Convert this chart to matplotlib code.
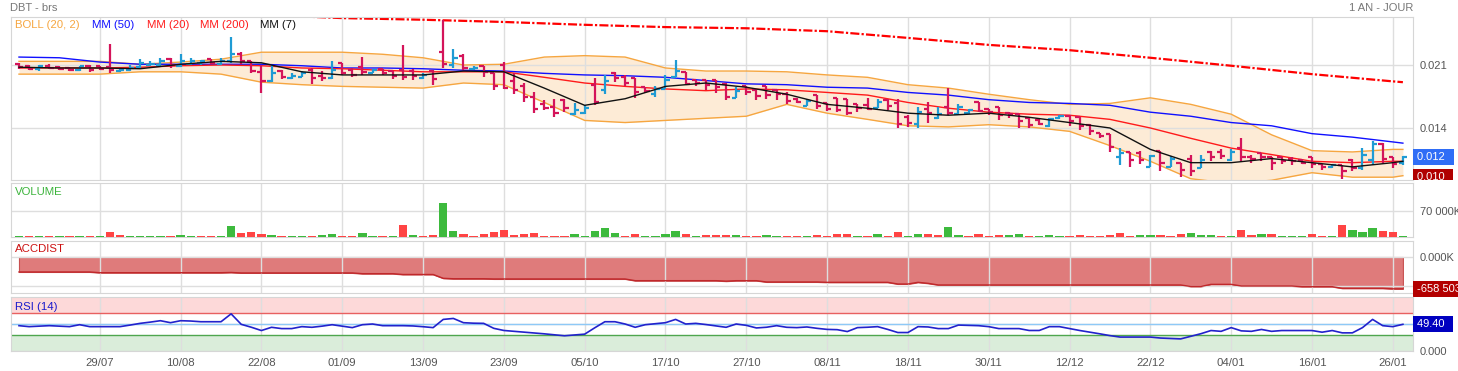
import numpy as np
import matplotlib
matplotlib.use('Agg')
import matplotlib.pyplot as plt
from matplotlib.ticker import NullLocator
from matplotlib.transforms import Bbox, TransformedBbox

plt.rcParams['font.family'] = ['Liberation Sans', 'DejaVu Sans']
plt.rcParams['lines.scale_dashes'] = False

# daily bars, prices in thousandths (x 0.001)
open_ = [21.2, 20.9, 20.5, 20.9, 20.7, 20.6, 20.3, 20.9, 20.8, 20.7,
         20.2, 20.3, 20.7, 21.0, 21.0, 21.8, 20.9, 21.2, 21.3, 21.8,
         21.2, 21.6, 22.6, 21.5, 20.1, 18.9, 20.2, 19.3, 19.5, 20.3,
         19.6, 19.3, 21.3, 20.3, 20.7, 19.9, 20.4, 20.2, 20.3, 20.2,
         19.3, 20.2, 22.8, 21.0, 22.3, 20.4, 20.8, 20.0, 21.0, 19.0,
         18.3, 17.1, 16.3, 16.0, 16.8, 15.3, 15.4, 18.5, 17.9, 20.0,
         19.5, 19.3, 18.2, 17.4, 18.0, 19.4, 20.1, 19.1, 19.1, 19.1,
         18.6, 17.0, 18.3, 17.9, 18.4, 17.9, 17.4, 16.9, 16.1, 17.3,
         16.4, 17.0, 16.9, 16.3, 16.2, 15.9, 16.8, 16.4, 15.0, 14.4,
         15.8, 14.9, 16.0, 15.3, 15.4, 16.6, 15.8, 16.0, 15.4, 15.3,
         14.9, 14.7, 14.2, 14.9, 15.1, 15.0, 14.3, 13.6, 13.5, 11.6,
         12.0, 11.9, 10.9, 12.1, 10.9, 11.2, 11.5, 10.8, 12.0, 12.0,
         11.4, 12.3, 11.6, 11.9, 11.6, 11.6, 11.5, 11.4, 11.6, 11.1,
         10.9, 11.0, 11.4, 10.8, 11.4, 12.6, 11.6, 11.2]
high = [21.3, 21.0, 21.0, 21.1, 20.9, 20.7, 20.9, 21.0, 20.9, 24.0,
        20.5, 21.0, 21.8, 21.5, 21.9, 22.0, 22.5, 22.0, 21.7, 21.8,
        22.0, 25.1, 22.8, 21.5, 21.0, 21.0, 20.3, 19.9, 20.2, 20.6,
        20.2, 21.5, 21.3, 20.6, 22.1, 20.5, 20.4, 20.2, 23.9, 20.4,
        19.9, 20.3, 28.1, 23.3, 22.6, 20.8, 20.8, 20.0, 21.4, 20.0,
        18.7, 17.6, 16.8, 16.9, 16.9, 16.4, 16.2, 19.3, 19.7, 20.1,
        19.7, 19.3, 18.2, 18.3, 19.7, 21.7, 20.1, 19.1, 19.1, 19.1,
        18.7, 18.2, 18.4, 17.9, 18.4, 18.0, 17.6, 17.0, 16.9, 17.3,
        16.4, 17.0, 16.9, 16.3, 17.0, 16.9, 16.9, 16.9, 15.2, 16.0,
        16.5, 16.0, 18.1, 16.3, 15.8, 16.6, 15.8, 16.0, 15.5, 15.3,
        14.9, 14.8, 14.9, 15.2, 15.2, 15.0, 14.4, 13.6, 13.5, 12.3,
        12.0, 12.1, 11.8, 12.1, 11.7, 11.2, 11.8, 11.8, 12.1, 12.2,
        12.2, 13.1, 11.8, 11.9, 11.6, 11.6, 11.6, 11.5, 11.6, 11.1,
        11.1, 11.0, 11.5, 12.3, 12.9, 12.7, 11.6, 11.7]
low = [20.4, 20.3, 20.2, 20.4, 20.3, 20.2, 20.2, 20.1, 20.3, 19.9,
       20.1, 20.2, 20.6, 20.8, 20.9, 20.6, 20.7, 21.0, 21.0, 21.1,
       21.0, 21.3, 21.2, 20.0, 17.5, 18.8, 19.2, 19.2, 19.4, 18.6,
       19.0, 19.2, 19.7, 19.4, 19.7, 19.9, 19.7, 19.2, 19.1, 19.1,
       19.2, 18.5, 20.6, 20.6, 20.3, 20.3, 19.4, 17.9, 18.0, 17.4,
       16.6, 15.4, 15.7, 15.0, 15.5, 15.2, 15.3, 16.2, 17.4, 18.8,
       18.4, 17.0, 17.5, 17.1, 18.0, 19.4, 18.5, 18.3, 17.9, 17.5,
       16.8, 17.0, 17.3, 16.8, 16.9, 16.8, 16.3, 16.4, 16.1, 15.8,
       15.6, 15.5, 15.2, 15.5, 15.7, 15.9, 15.7, 14.0, 14.1, 14.0,
       14.5, 14.8, 15.2, 15.2, 15.3, 15.5, 15.2, 14.7, 14.9, 14.0,
       14.0, 14.3, 14.1, 14.8, 14.2, 13.8, 13.4, 13.1, 12.0, 11.0,
       10.9, 11.1, 10.9, 10.6, 10.9, 10.2, 10.3, 10.8, 11.3, 11.5,
       11.3, 11.3, 11.2, 11.3, 10.7, 11.1, 11.0, 11.1, 10.8, 10.7,
       10.8, 10.1, 10.6, 10.7, 11.0, 11.2, 10.8, 11.0]
close = [20.7, 20.5, 20.8, 20.6, 20.4, 20.3, 20.8, 20.3, 20.5, 20.3,
         20.3, 20.6, 21.3, 21.2, 21.5, 21.0, 21.6, 21.6, 21.5, 21.3,
         21.6, 22.5, 21.5, 20.2, 19.0, 19.9, 19.4, 19.6, 19.9, 19.3,
         19.3, 20.3, 20.0, 19.7, 20.1, 20.3, 20.0, 19.6, 19.4, 19.6,
         19.7, 19.2, 21.1, 22.0, 20.6, 20.6, 20.1, 18.4, 18.1, 17.9,
         17.1, 15.8, 15.9, 15.4, 15.9, 15.7, 15.9, 16.6, 19.0, 19.3,
         18.7, 17.6, 17.8, 18.0, 19.1, 20.2, 18.6, 18.7, 18.5, 18.2,
         17.1, 17.8, 17.7, 17.2, 17.3, 17.4, 16.7, 16.5, 16.7, 16.1,
         15.8, 15.7, 15.4, 15.9, 15.8, 16.6, 16.1, 14.4, 14.5, 15.5,
         15.4, 15.3, 15.4, 16.0, 15.7, 15.6, 15.5, 15.2, 15.3, 14.6,
         14.3, 14.4, 14.8, 15.1, 14.6, 14.2, 13.7, 13.3, 12.4, 11.9,
         11.4, 11.4, 11.7, 11.2, 11.5, 10.7, 10.6, 11.4, 11.6, 11.7,
         12.0, 11.6, 11.5, 11.6, 11.2, 11.3, 11.3, 11.2, 11.1, 10.9,
         11.0, 10.6, 10.8, 11.8, 12.6, 11.5, 11.1, 11.6]

# indicators read every 4th bar (last bar added)
boll_up = [21.5, 21.5, 21.5, 21.1, 21.4, 21.8, 22.8, 22.8, 22.8, 22.5, 22.0, 21.0,
           21.1, 22.1, 22.3, 22.1, 20.6, 20.2, 20.2, 20.1, 19.7, 19.4, 18.5, 18.1,
           17.4, 16.8, 16.3, 16.4, 17.0, 16.3, 15.3, 13.4, 12.1, 12.0, 12.2, 12.2]
boll_lo = [19.8, 19.8, 19.8, 20.1, 20.1, 19.8, 18.8, 18.5, 18.3, 18.2, 18.1, 18.7,
           18.5, 16.5, 14.7, 14.5, 14.7, 14.9, 15.1, 16.3, 15.4, 14.8, 14.2, 14.1,
           14.3, 14.1, 13.7, 12.5, 11.3, 10.1, 9.8, 10.0, 10.5, 10.2, 10.2, 10.3]
mm50 = [22.1, 22.0, 21.4, 21.1, 21.1, 21.1, 21.1, 20.9, 20.6, 20.6, 20.5, 20.3,
        20.2, 19.9, 19.7, 19.6, 19.4, 19.0, 18.6, 18.5, 18.2, 18.1, 17.6, 17.3,
        16.8, 16.5, 16.4, 16.2, 15.5, 15.1, 14.5, 14.2, 13.5, 13.2, 12.8, 12.7]
mm20 = [20.6, 20.6, 20.6, 20.7, 20.9, 21.0, 20.9, 20.6, 20.5, 20.3, 20.1, 20.1,
        20.1, 19.4, 18.7, 18.3, 18.0, 17.8, 18.0, 17.9, 17.6, 17.3, 16.5, 15.9,
        15.5, 15.3, 15.2, 14.8, 14.0, 13.1, 12.3, 11.8, 11.3, 11.2, 11.3, 11.3]
mm7 = [20.7, 20.6, 20.6, 20.5, 21.1, 21.5, 21.3, 20.1, 19.7, 19.7, 19.7, 20.2,
       20.1, 18.1, 16.2, 16.9, 18.3, 18.7, 18.2, 17.4, 16.3, 15.9, 15.4, 15.2,
       15.4, 15.0, 14.5, 14.0, 12.2, 11.2, 11.2, 11.5, 11.2, 10.9, 11.2, 11.3]
# every 8th bar
mm200 = [30.3, 29.7, 29.3, 29.0, 28.4, 28.1, 27.7, 27.2, 26.8, 26.6,
         26.1, 25.0, 23.9, 23.1, 22.0, 20.9, 19.8, 18.9, 18.8]

# volume in K, g = up day, r = down day
volume = [3500, 3500, 3500, 3500, 2700, 3500, 2700, 3500, 3500, 13500,
          4600, 3500, 3500, 3500, 3500, 3500, 4600, 3500, 3500, 2700,
          3500, 28800, 10800, 12700, 8900, 4600, 3500, 3500, 3500, 3500,
          4600, 7300, 3500, 3500, 10800, 3500, 3500, 3500, 31500, 4600,
          3500, 4600, 91500, 16200, 7300, 3500, 7300, 14300, 18000, 6200,
          7300, 10800, 3500, 2700, 3500, 7300, 3500, 15300, 24200, 11600,
          3500, 8900, 3500, 3500, 7300, 16200, 8900, 3500, 5400, 5400,
          5400, 4600, 3500, 3500, 6200, 3500, 3500, 3500, 3500, 5400,
          3500, 8100, 8100, 1900, 2700, 8900, 2700, 12700, 1900, 7300,
          7300, 5400, 26100, 5400, 2700, 8900, 2700, 5400, 4600, 8900,
          2700, 2700, 5400, 2700, 2700, 4600, 2700, 2700, 4600, 10800,
          2700, 5400, 4600, 4600, 3500, 7300, 10800, 4600, 4600, 2700,
          2700, 19700, 4600, 8900, 7300, 2700, 2700, 2700, 8900, 2700,
          2700, 33100, 18000, 14300, 24200, 15300, 14300, 2700]
vol_dir = ("grgrgrgrgr" "rggggrggrr" "ggrrrgrggr" "ggrrggrgrg" "rrggrrrrrr"
           "rrrrrggggg" "rrggggrgrr" "rgrrggrrgr" "rrrgrgrrgg" "rrggrrrrgg"
           "rgggrrrrrr" "rggrrrgggr" "grrgrgggrr" "grgggrrg")

# accumulation / distribution in K
accdist = [-310, -310, -310, -310, -310, -310, -310, -310, -325, -325,
           -325, -325, -325, -325, -325, -325, -325, -325, -325, -325,
           -325, -320, -330, -330, -330, -330, -330, -330, -330, -330,
           -330, -330, -330, -330, -345, -345, -345, -345, -362, -362,
           -362, -362, -441, -450, -450, -450, -450, -455, -455, -455,
           -455, -455, -455, -455, -455, -455, -455, -455, -455, -455,
           -455, -490, -490, -490, -490, -490, -490, -490, -490, -490,
           -500, -490, -490, -490, -517, -517, -517, -517, -517, -517,
           -524, -524, -524, -524, -524, -524, -524, -559, -559, -524,
           -545, -579, -579, -579, -579, -579, -579, -579, -579, -579,
           -579, -579, -579, -579, -579, -579, -579, -579, -579, -579,
           -579, -579, -579, -579, -579, -579, -610, -610, -566, -566,
           -566, -600, -600, -600, -600, -600, -600, -614, -614, -614,
           -614, -648, -648, -648, -648, -648, -658.5, -658.5]

rsi = [46.9, 45.1, 46.0, 46.9, 46.0, 45.1, 48.7, 45.1, 45.1, 45.1,
       45.1, 48.0, 51.2, 53.5, 56.1, 52.4, 56.1, 55.5, 54.2, 54.2,
       54.2, 68.8, 49.4, 44.0, 37.9, 43.9, 41.5, 41.5, 45.1, 43.9,
       46.0, 48.7, 46.0, 43.3, 48.7, 50.0, 46.9, 46.9, 46.9, 46.4,
       45.0, 43.3, 58.5, 60.3, 52.4, 51.5, 51.2, 42.0, 38.0, 36.5,
       34.8, 33.3, 31.8, 30.0, 28.2, 29.7, 31.2, 43.0, 54.2, 54.2,
       50.0, 43.9, 48.7, 50.5, 52.4, 58.5, 50.0, 51.2, 49.0, 46.5,
       43.9, 50.0, 47.5, 42.7, 44.0, 46.9, 43.9, 43.3, 44.5, 42.0,
       40.0, 39.5, 36.0, 43.3, 44.0, 45.1, 40.0, 34.2, 34.2, 45.1,
       44.5, 41.5, 41.5, 48.0, 47.5, 46.9, 45.1, 41.5, 41.5, 41.5,
       38.0, 38.0, 45.1, 45.1, 41.5, 38.0, 35.0, 31.8, 28.5, 25.8,
       25.8, 25.8, 25.8, 24.0, 23.2, 22.4, 27.3, 32.0, 37.9, 36.4,
       43.3, 37.3, 36.4, 39.9, 36.4, 37.9, 37.9, 37.9, 37.9, 34.8,
       37.9, 33.6, 33.6, 43.3, 58.5, 46.9, 45.1, 49.4]

date_labels = ['29/07', '10/08', '22/08', '01/09', '13/09', '23/09', '05/10', '17/10',
               '27/10', '08/11', '18/11', '30/11', '12/12', '22/12', '04/01', '16/01', '26/01']

o = np.array(open_) * 1e-3
h = np.array(high) * 1e-3
l = np.array(low) * 1e-3
c = np.array(close) * 1e-3
n = len(c)
idx = np.arange(n)
ma_idx = np.r_[np.arange(0, n - 1, 4), n - 1]
mm200_idx = np.r_[np.arange(0, n - 1, 8), n - 1]
tick_pos = np.arange(8, n, 8)

W, H = 1458, 371
fig = plt.figure(figsize=(W / 100, H / 100), dpi=100)


def box(x0, y0, x1, y1):
    return [x0 / W, 1 - y1 / H, (x1 - x0) / W, (y1 - y0) / H]


ax = fig.add_axes(box(11, 17, 1413, 180))
axv = fig.add_axes(box(11, 183, 1413, 237))
axa = fig.add_axes(box(11, 241, 1413, 293))
axr = fig.add_axes(box(11, 297, 1413, 351))

gray = '#555555'
for a in (ax, axv, axa, axr):
    a.set_xlim(-0.79, 138.0)
    a.set_xticks(tick_pos)
    a.grid(True, color='#dedede', lw=1)
    a.set_axisbelow(True)
    for s in a.spines.values():
        s.set_color('#d6d6d6')
    a.yaxis.tick_right()
    a.tick_params(length=0, labelsize=8, labelcolor=gray, pad=5)
    a.tick_params(axis='x', labelbottom=False)


def tag(a, y, s, color, y0=None, y1=None):
    t = a.text(1.0025, y, s + '  ', transform=a.get_yaxis_transform(), ha='left', va='center',
               color='white', fontsize=8, clip_on=False,
               bbox=dict(boxstyle='square,pad=0.28', fc=color, ec='none'))
    if y0 is not None:
        # keep the marker inside the panel's band on the right
        clip = TransformedBbox(Bbox([[1413 / W, 1 - y1 / H], [1.0, 1 - y0 / H]]), fig.transFigure)
        t.set_clip_on(True)
        t.set_clip_box(clip)
    return t


# price panel
ax.set_yscale('log')
ax.set_ylim(0.010018, 0.0286)
ax.set_yticks([0.014, 0.021])
ax.set_yticklabels(['0.014', '0.021'])
ax.yaxis.set_minor_locator(NullLocator())

up_ = np.array(boll_up) * 1e-3
lo_ = np.array(boll_lo) * 1e-3
ax.fill_between(ma_idx, lo_, up_, color='#fdebd6', lw=0, zorder=0.2)
ax.plot(ma_idx, up_, color='#f6a640', lw=1)
ax.plot(ma_idx, lo_, color='#f6a640', lw=1)
ax.plot(ma_idx, np.array(mm50) * 1e-3, color='#1010ff', lw=1)
ax.plot(ma_idx, np.array(mm20) * 1e-3, color='#ff1a1a', lw=1)
ax.plot(mm200_idx, np.array(mm200) * 1e-3, color='#ff0000', lw=1.6,
        linestyle=(0, (6.5, 1.6, 1.6, 1.6)))

cols = np.where(c >= o, '#1f9bd4', '#d4145a')
ax.vlines(idx, l, h, colors=cols, lw=1.6, zorder=3)
ax.hlines(o, idx - 0.42, idx, colors=cols, lw=1.6, zorder=3)
ax.hlines(c, idx, idx + 0.42, colors=cols, lw=1.6, zorder=3)
ax.plot(ma_idx, np.array(mm7) * 1e-3, color='#111111', lw=1, zorder=4)

tag(ax, c[-1], '0.012', '#2f6df6', 17, 180)
tag(ax, 0.0102, '0.010', '#b00000', 17, 180)

legend = [('BOLL (20, 2)', '#f6a640', 15), ('MM (50)', '#1010ff', 92),
          ('MM (20)', '#ff1a1a', 147), ('MM (200)', '#ff1a1a', 200), ('MM (7)', '#111111', 260)]
for txt, col, x in legend:
    fig.text(x / W, 1 - 25 / H, txt, color=col, fontsize=8.2, va='center')

fig.text(10 / W, 1 - 8 / H, 'DBT - brs', color='#777777', fontsize=8, va='center')
fig.text(1413 / W, 1 - 8 / H, '1 AN - JOUR', color='#777777', fontsize=8, va='center', ha='right')

# volume panel
vcol = ['#3dba3d' if d == 'g' else '#ff4444' for d in vol_dir]
axv.bar(idx, volume, width=0.82, color=vcol, zorder=3)
axv.set_ylim(0, 145000)
axv.set_yticks([70000])
axv.set_yticklabels(['70 000K'])
fig.text(15 / W, 1 - 192 / H, 'VOLUME', color='#3cb43c', fontsize=8.2, va='center')

# accdist panel
acc = np.array(accdist)
axa.fill_between(idx, acc, 0, color='#df7b7b', ec='#c85050', lw=0.8, zorder=0.2)
axa.plot(idx, acc, color='#c0282b', lw=1, zorder=3)
axa.set_ylim(-745, 331)
axa.set_yticks([0, -600])
axa.set_yticklabels(['0.000K', '-600.0K'])
tag(axa, acc[-1], '-658 503', '#b30000')
fig.text(15 / W, 1 - 249 / H, 'ACCDIST', color='#cc1111', fontsize=8.2, va='center')

# rsi panel
axr.set_ylim(0, 100)
axr.axhspan(70, 100, color='#fdd9d9', lw=0, zorder=0.2)
axr.axhspan(0, 30, color='#daedda', lw=0, zorder=0.2)
axr.axhline(70, color='#e86060', lw=1)
axr.axhline(50, color='#8ec9f7', lw=1)
axr.axhline(30, color='#4ea64e', lw=1)
axr.plot(idx, rsi, color='#2222cc', lw=1.2, zorder=3)
axr.set_yticks([0, 50])
axr.set_yticklabels(['0.000', '50.00'])
axr.set_xticklabels(date_labels)
axr.tick_params(axis='x', labelbottom=True, labelsize=8.2, pad=5)
tag(axr, rsi[-1], '49.40', '#0000c0')
fig.text(15 / W, 1 - 307 / H, 'RSI (14)', color='#1a1acc', fontsize=8.2, va='center')

fig.savefig('out.png', dpi=100)
